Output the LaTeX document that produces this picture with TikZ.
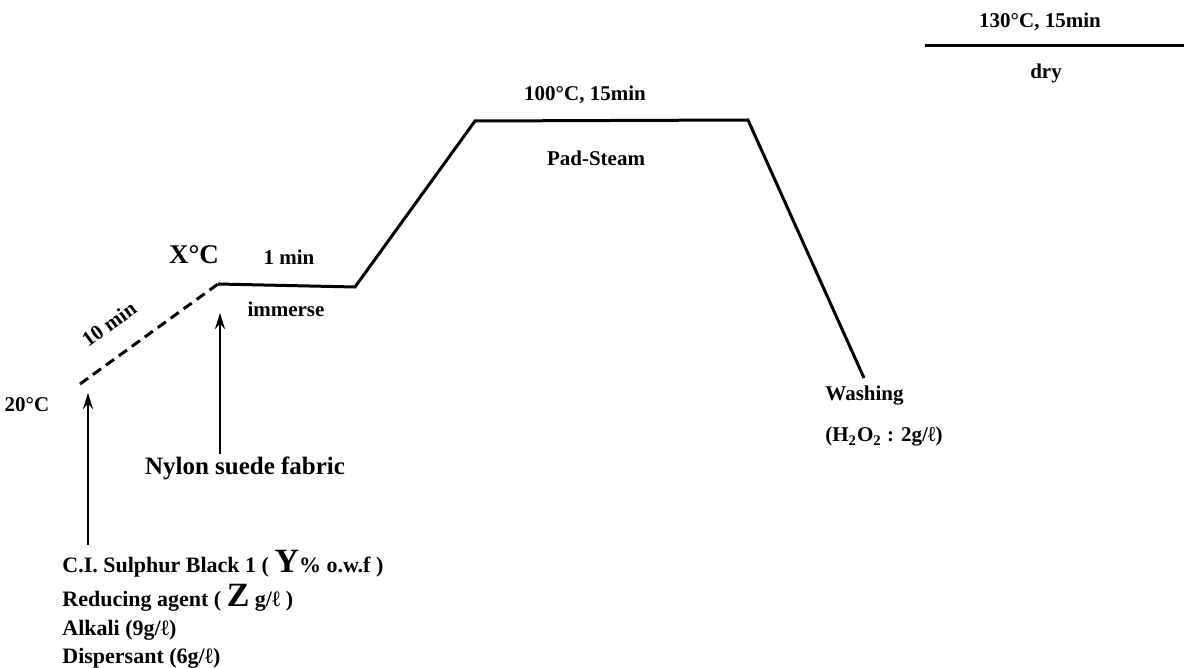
\documentclass[tikz,border=0pt]{standalone}
\usepackage{fontspec}
\setmainfont{Liberation Serif}
\usetikzlibrary{arrows.meta}
\begin{document}
\begin{tikzpicture}[x=0.5pt,y=-0.5pt,
  every node/.style={font=\bfseries\fontsize{10.5}{12}\selectfont, inner sep=0pt},
  big/.style={font=\bfseries\fontsize{12.5}{14}\selectfont},
  chem/.style={anchor=base west, font=\bfseries\fontsize{11}{12}\selectfont},
  curve/.style={line width=1.5pt, line join=miter},
  arr/.style={line width=1.3pt, -{Stealth[length=8pt,width=5pt]}}]
\useasboundingbox (0,0) rectangle (1184,668);
% profile
\coordinate (s) at (80,384);
\coordinate (x) at (218,284);
\coordinate (a) at (355,287);
\coordinate (b) at (475,121);
\coordinate (c) at (748,120);
\coordinate (d) at (864,378);
\draw[curve, dash pattern=on 5pt off 3pt] (s) -- (x);
\draw[curve] (x) -- (a) -- (b) -- (c) -- (d);
\coordinate (dl) at (925,46);
\coordinate (dr) at (1184,46);
\draw[curve] (dl) -- (dr);
% labels
\node (t20) at (27,405) {20°C};
\node[rotate=36] (t10) at (109,324) {10 min};
\node[font=\bfseries\fontsize{13.5}{15}\selectfont] (tx) at (194,255) {X°C};
\node (t1) at (289,257) {1 min};
\node (imm) at (286,309) {immerse};
\node[big] (nylon) at (245,468) {Nylon suede fabric};
\node (t100) at (585,95) {100°C, 15min};
\node (pad) at (596,158) {Pad-Steam};
\node (t130) at (1040,22) {130°C, 15min};
\node (dry) at (1046,73) {dry};
\node[anchor=west] (wash) at (825,396) {Washing};
\node[anchor=west] (h2o2) at (825,437) {(H\textsubscript{2}O\textsubscript{2} : 2g/ℓ)};
% chemicals
\node[chem] (ci) at (62,572) {C.I. Sulphur Black 1 ( {\fontsize{17}{17}\selectfont Y}\% o.w.f )};
\node[chem] (red) at (62,606) {Reducing agent ( {\fontsize{17}{17}\selectfont Z} g/ℓ )};
\node[chem] (alk) at (62,635) {Alkali (9g/ℓ)};
\node[chem] (disp) at (62,663) {Dispersant (6g/ℓ)};
% arrows
\coordinate (a1s) at (88,545);
\coordinate (a1e) at (88,393);
\coordinate (a2s) at (220,454);
\coordinate (a2e) at (220,313);
\draw[arr] (a1s) -- (a1e);
\draw[arr] (a2s) -- (a2e);
\end{tikzpicture}
\end{document}
